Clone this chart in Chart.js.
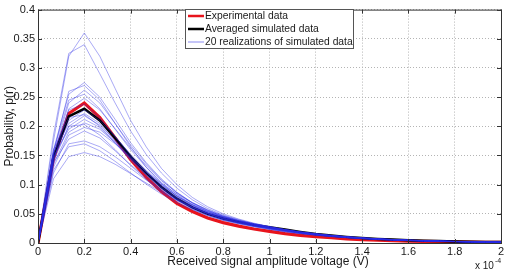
<!DOCTYPE html>
<html>
<head>
<meta charset="utf-8">
<script src="https://cdn.jsdelivr.net/npm/chart.js@4.4.0/dist/chart.umd.min.js"></script>
<style>
  html, body { margin: 0; padding: 0; background: #fff; }
  #wrap { width: 508px; height: 271px; }
</style>
</head>
<body>
<div id="wrap"><canvas id="pdfChart"></canvas></div>
<script>
// Received amplitude (x 1e-4 V), bin centres
const amplitude = [0, 0.067, 0.133, 0.2, 0.267, 0.333, 0.4, 0.467, 0.533, 0.6,
    0.667, 0.733, 0.8, 0.867, 0.933, 1.0, 1.067, 1.133, 1.2, 1.267,
    1.333, 1.4, 1.467, 1.533, 1.6, 1.667, 1.733, 1.8, 1.867, 1.933, 2.0];

const xTicks = [0, 0.2, 0.4, 0.6, 0.8, 1, 1.2, 1.4, 1.6, 1.8, 2];
const yTicks = [0, 0.05, 0.1, 0.15, 0.2, 0.25, 0.3, 0.35, 0.4];

const experimental = [0, 0.145, 0.222, 0.240, 0.215, 0.180, 0.143, 0.113, 0.088, 0.068,
    0.054, 0.043, 0.035, 0.029, 0.024, 0.020, 0.016, 0.013, 0.011, 0.009,
    0.007, 0.0058, 0.0048, 0.004, 0.0033, 0.0027, 0.0022, 0.0018, 0.0015, 0.0012, 0.001];

const averaged = [0, 0.148, 0.217, 0.230, 0.210, 0.180, 0.148, 0.120, 0.096, 0.076,
    0.061, 0.050, 0.042, 0.036, 0.031, 0.027, 0.023, 0.019, 0.0155, 0.013,
    0.0105, 0.0085, 0.007, 0.0058, 0.0048, 0.004, 0.0033, 0.0027, 0.0022, 0.0018, 0.0015];

// 20 simulated realizations
const realizations = [
    [0,.175,.32,.36,.32,.265,.21,.165,.128,.1,.078,.062,.05,.041,.034,.028,.023,.019,.0155,.0128,.0105,.0086,.007,.0058,.0048,.004,.0033,.0027,.0022,.0018,.0015],
    [0,.185,.325,.34,.29,.24,.192,.152,.12,.094,.074,.059,.048,.04,.033,.028,.023,.019,.016,.013,.011,.009,.0073,.006,.005,.0041,.0034,.0028,.0023,.0019,.0016],
    [0,.16,.255,.275,.25,.212,.172,.138,.11,.087,.069,.056,.046,.038,.032,.027,.022,.018,.015,.0125,.0102,.0084,.0069,.0057,.0047,.0039,.0032,.0026,.0021,.0017,.0014],
    [0,.155,.26,.27,.245,.205,.165,.13,.102,.08,.064,.052,.043,.036,.031,.026,.022,.018,.015,.012,.01,.0082,.0067,.0055,.0045,.0037,.003,.0025,.002,.0016,.0013],
    [0,.15,.24,.262,.24,.205,.168,.136,.108,.086,.068,.055,.045,.038,.032,.027,.022,.018,.015,.0125,.0102,.0083,.0068,.0056,.0046,.0038,.0031,.0025,.002,.0016,.0013],
    [0,.158,.245,.255,.23,.195,.16,.13,.104,.083,.066,.054,.045,.038,.032,.027,.023,.019,.016,.013,.0105,.0086,.007,.0058,.0048,.004,.0033,.0027,.0022,.0018,.0015],
    [0,.14,.23,.248,.228,.196,.163,.133,.107,.086,.069,.056,.046,.039,.033,.028,.023,.019,.0158,.013,.0107,.0088,.0072,.0059,.0049,.004,.0033,.0027,.0022,.0018,.0015],
    [0,.152,.228,.238,.215,.183,.15,.121,.097,.078,.063,.051,.042,.035,.03,.025,.021,.017,.014,.0115,.0094,.0077,.0063,.0052,.0043,.0035,.0029,.0024,.0019,.0016,.0013],
    [0,.145,.21,.228,.21,.182,.152,.125,.101,.081,.065,.053,.044,.037,.031,.026,.022,.018,.015,.0122,.01,.0082,.0067,.0055,.0045,.0037,.003,.0025,.002,.0016,.0013],
    [0,.155,.205,.222,.205,.175,.145,.118,.095,.076,.061,.05,.041,.034,.029,.024,.02,.0165,.0136,.0112,.0092,.0075,.0062,.0051,.0042,.0034,.0028,.0023,.0019,.0015,.0012],
    [0,.14,.2,.218,.202,.176,.148,.122,.099,.08,.065,.053,.044,.037,.031,.026,.022,.018,.015,.0123,.0101,.0083,.0068,.0056,.0046,.0038,.0031,.0025,.0021,.0017,.0014],
    [0,.148,.195,.212,.198,.172,.143,.117,.095,.077,.062,.051,.042,.035,.03,.025,.021,.0172,.0142,.0117,.0096,.0079,.0065,.0053,.0044,.0036,.0029,.0024,.002,.0016,.0013],
    [0,.135,.19,.206,.195,.172,.146,.121,.099,.081,.066,.054,.045,.038,.032,.027,.022,.0183,.015,.0124,.0102,.0084,.0069,.0056,.0046,.0038,.0031,.0026,.0021,.0017,.0014],
    [0,.145,.2,.203,.185,.16,.133,.109,.089,.072,.058,.047,.039,.033,.028,.023,.019,.0158,.013,.0107,.0088,.0072,.0059,.0049,.004,.0033,.0027,.0022,.0018,.0015,.0012],
    [0,.13,.185,.198,.19,.17,.146,.123,.102,.084,.069,.057,.047,.039,.033,.028,.023,.019,.0157,.013,.0107,.0088,.0072,.0059,.0049,.004,.0033,.0027,.0022,.0018,.0015],
    [0,.138,.178,.192,.18,.158,.134,.112,.092,.075,.061,.05,.041,.035,.029,.025,.021,.0172,.0142,.0117,.0096,.0079,.0065,.0053,.0044,.0036,.003,.0024,.002,.0016,.0013],
    [0,.12,.17,.175,.165,.148,.128,.108,.09,.074,.061,.05,.042,.035,.03,.025,.021,.0175,.0145,.012,.0099,.0081,.0067,.0055,.0045,.0037,.003,.0025,.002,.0016,.0013],
    [0,.125,.165,.17,.158,.14,.12,.101,.084,.069,.057,.047,.039,.033,.028,.024,.02,.0166,.0137,.0113,.0093,.0077,.0063,.0052,.0043,.0035,.0029,.0024,.0019,.0016,.0013],
    [0,.11,.148,.155,.148,.135,.119,.103,.087,.073,.061,.051,.043,.036,.031,.026,.022,.0183,.0152,.0126,.0104,.0086,.007,.0058,.0048,.0039,.0032,.0026,.0021,.0017,.0014],
    [0,.16,.215,.22,.2,.172,.142,.116,.093,.074,.059,.048,.04,.034,.029,.024,.02,.0166,.0137,.0113,.0093,.0076,.0062,.0051,.0042,.0035,.0029,.0024,.0019,.0016,.0013]
];

const seriesLabels = ['Experimental data', 'Averaged simulated data', '20 realizations of simulated data'];

const FONT = '"Liberation Sans", Arial, Helvetica, sans-serif';
const BLUE = 'rgba(45, 45, 230, 0.45)';

function toPoints(values) {
    return values.map((v, i) => ({ x: amplitude[i], y: v }));
}

// realizations on top (translucent), then black, then red underneath
const datasets = [];
realizations.forEach((r, i) => {
    datasets.push({
        label: i === 0 ? seriesLabels[2] : '',
        data: toPoints(r),
        borderColor: BLUE,
        borderWidth: 0.9,
        order: i
    });
});
datasets.push({ label: seriesLabels[1], data: toPoints(averaged), borderColor: '#000000', borderWidth: 2.5, order: 20 });
datasets.push({ label: seriesLabels[0], data: toPoints(experimental), borderColor: '#e8141c', borderWidth: 3.2, order: 21 });

// box, axis titles, exponent note and legend (MATLAB look)
const matlabDecor = {
    id: 'matlabDecor',
    afterDraw(chart) {
        const { ctx, chartArea: a } = chart;
        ctx.save();
        ctx.strokeStyle = '#333';
        ctx.lineWidth = 1;
        ctx.strokeRect(a.left + 0.5, a.top + 0.5, a.right - a.left, a.bottom - a.top);

        // small inward ticks
        const xs = chart.scales.x, ys = chart.scales.y;
        ctx.beginPath();
        xTicks.forEach(t => {
            const px = Math.round(xs.getPixelForValue(t)) + 0.5;
            ctx.moveTo(px, a.bottom); ctx.lineTo(px, a.bottom - 4);
            ctx.moveTo(px, a.top); ctx.lineTo(px, a.top + 4);
        });
        yTicks.forEach(t => {
            const py = Math.round(ys.getPixelForValue(t)) + 0.5;
            ctx.moveTo(a.left, py); ctx.lineTo(a.left + 4, py);
            ctx.moveTo(a.right, py); ctx.lineTo(a.right - 4, py);
        });
        ctx.stroke();

        ctx.fillStyle = '#1a1a1a';
        ctx.font = '12px ' + FONT;
        ctx.textAlign = 'center';
        ctx.textBaseline = 'middle';
        ctx.fillText('Received signal amplitude voltage (V)', 268, 262);

        ctx.save();
        ctx.translate(10, (a.top + a.bottom) / 2);
        ctx.rotate(-Math.PI / 2);
        ctx.fillText('Probability, p(r)', 0, 0);
        ctx.restore();

        ctx.font = '10px ' + FONT;
        ctx.textAlign = 'left';
        ctx.fillText('x 10', 475, 266);
        ctx.font = '7px ' + FONT;
        ctx.fillText('-4', 495, 261);

        // legend
        const lx = 185, ly = 9, lw = 168, lh = 39;
        ctx.fillStyle = '#fff';
        ctx.fillRect(lx, ly, lw, lh);
        ctx.strokeStyle = '#555';
        ctx.lineWidth = 1;
        ctx.strokeRect(lx + 0.5, ly + 0.5, lw, lh);
        const rows = [
            { text: seriesLabels[0], color: '#e8141c', width: 2.5 },
            { text: seriesLabels[1], color: '#000', width: 2.5 },
            { text: seriesLabels[2], color: 'rgba(45, 45, 230, 0.55)', width: 1 }
        ];
        ctx.font = '10.3px ' + FONT;
        ctx.textBaseline = 'middle';
        rows.forEach((r, i) => {
            const y = ly + 7 + i * 13;
            ctx.strokeStyle = r.color;
            ctx.lineWidth = r.width;
            ctx.beginPath();
            ctx.moveTo(lx + 3, y);
            ctx.lineTo(lx + 19, y);
            ctx.stroke();
            ctx.fillStyle = '#1a1a1a';
            ctx.fillText(r.text, lx + 20, y + 0.5);
        });
        ctx.restore();
    }
};

new Chart(document.getElementById('pdfChart'), {
    type: 'line',
    data: { datasets: datasets },
    options: {
        responsive: true,
        maintainAspectRatio: false,
        animation: false,
        layout: { padding: { top: 7, right: 7, left: 0, bottom: 0 } },
        elements: { point: { radius: 0 }, line: { tension: 0 } },
        plugins: { legend: { display: false }, tooltip: { enabled: false } },
        scales: {
            x: {
                type: 'linear',
                min: 0,
                max: 2,
                afterBuildTicks: scale => { scale.ticks = xTicks.map(v => ({ value: v })); },
                afterFit: scale => { scale.height = 28; },
                ticks: {
                    color: '#1a1a1a',
                    font: { family: FONT, size: 11 },
                    padding: 2,
                    maxRotation: 0,
                    callback: v => String(+v.toFixed(1))
                },
                grid: { color: '#b4b4b4', lineWidth: 1, drawTicks: false },
                border: { display: false, dash: [1, 2] }
            },
            y: {
                min: 0,
                max: 0.4,
                afterBuildTicks: scale => { scale.ticks = yTicks.map(v => ({ value: v })); },
                afterFit: scale => { scale.width = 38; },
                ticks: {
                    color: '#1a1a1a',
                    font: { family: FONT, size: 11 },
                    padding: 3,
                    callback: v => String(+v.toFixed(2))
                },
                grid: { color: '#b4b4b4', lineWidth: 1, drawTicks: false },
                border: { display: false, dash: [1, 2] }
            }
        }
    },
    plugins: [matlabDecor]
});
</script>
</body>
</html>
